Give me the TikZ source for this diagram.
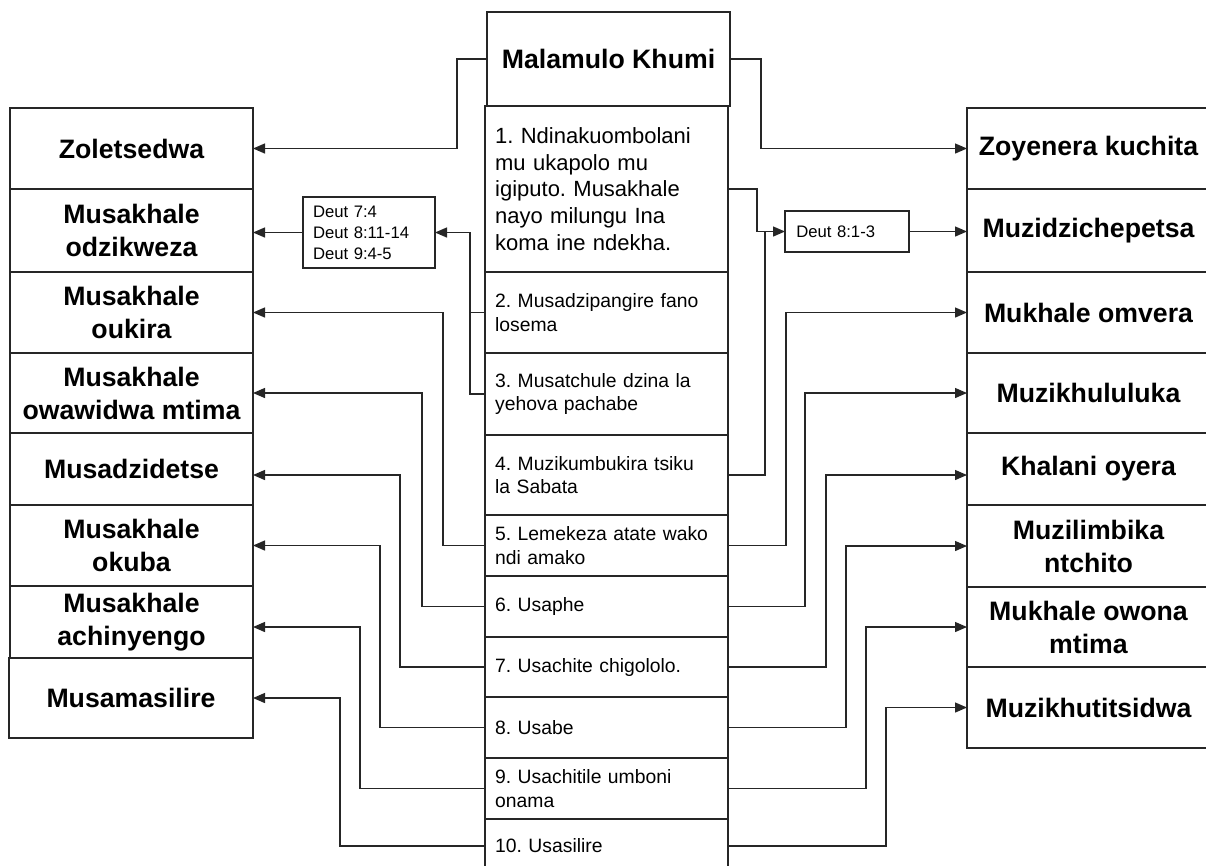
\documentclass[tikz,border=0pt]{standalone}
\usepackage{fontspec}
\setmainfont{Liberation Sans}
\usetikzlibrary{arrows.meta,calc}
\frenchspacing
\newcommand\bx[7]{\node[#6, minimum width={(#4-#2)*0.75pt}, minimum height={(#5-#3)*0.75pt}] (#1) at ({(#2+#4)/2},{(#3+#5)/2}) {#7};}
\tikzset{
  box/.style={draw=black!85, line width=1.1pt, fill=white, inner sep=0pt, outer sep=0pt},
  lab/.style={box, font=\fontsize{20}{24.75}\selectfont\bfseries\frenchspacing, align=center},
  ctr/.style={box, font=\fontsize{14.5}{17.5}\selectfont\frenchspacing, text width=167pt, align=left},
  ctrbig/.style={ctr, font=\fontsize{16.5}{20}\selectfont\frenchspacing},
  refbox/.style={box, line width=0.9pt, font=\fontsize{12.5}{15.75}\selectfont, align=left},
  arr/.style={-{Triangle[length=9pt,width=7.5pt]}, line width=1pt, draw=black!85},
  ln/.style={line width=1pt, draw=black!85}
}
\begin{document}
\begin{tikzpicture}[x=0.75pt,y=-0.75pt]
\useasboundingbox (0,0) rectangle (1206,865);
\fill[white] (0,0) rectangle (1206,865);
% centre column
\bx{title}{487}{12}{730}{106}{lab}{Malamulo Khumi}
\bx{c1}{485}{106}{728}{272}{ctrbig}{1. Ndinakuombolani\\mu ukapolo mu\\igiputo. Musakhale\\nayo milungu Ina\\koma ine ndekha.}
\bx{c2}{485}{272}{728}{353}{ctr}{2. Musadzipangire fano\\losema}
\bx{c3}{485}{353}{728}{435}{ctr}{3. Musatchule dzina la\\yehova pachabe}
\bx{c4}{485}{435}{728}{515}{ctr}{4. Muzikumbukira tsiku\\la Sabata}
\bx{c5}{485}{515}{728}{576}{ctr}{5. Lemekeza atate wako\\ndi amako}
\bx{c6}{485}{576}{728}{637}{ctr}{6. Usaphe}
\bx{c7}{485}{637}{728}{697}{ctr}{7. Usachite chigololo.}
\bx{c8}{485}{697}{728}{758}{ctr}{8. Usabe}
\bx{c9}{485}{758}{728}{819}{ctr}{9. Usachitile umboni\\onama}
\bx{c10}{485}{819}{728}{873}{ctr}{10. Usasilire}
% left column
\bx{l1}{10}{108}{253}{189}{lab}{Zoletsedwa}
\bx{l2}{10}{189}{253}{272}{lab}{Musakhale\\odzikweza}
\bx{l3}{10}{272}{253}{353}{lab}{Musakhale\\oukira}
\bx{l4}{10}{353}{253}{433}{lab}{Musakhale\\owawidwa mtima}
\bx{l5}{10}{433}{253}{505}{lab}{Musadzidetse}
\bx{l6}{10}{505}{253}{586}{lab}{Musakhale\\okuba}
\bx{l7}{10}{586}{253}{658}{lab}{Musakhale\\achinyengo}
\bx{l8}{9}{658}{253}{738}{lab}{Musamasilire}
% right column
\bx{r1}{967}{108}{1210}{189}{lab}{Zoyenera kuchita}
\bx{r2}{967}{189}{1210}{272}{lab}{Muzidzichepetsa}
\bx{r3}{967}{272}{1210}{353}{lab}{Mukhale omvera}
\bx{r4}{967}{353}{1210}{433}{lab}{Muzikhululuka}
\bx{r5}{967}{433}{1210}{505}{lab}{Khalani oyera}
\bx{r6}{967}{505}{1210}{587}{lab}{Muzilimbika\\ntchito}
\bx{r7}{967}{587}{1210}{667}{lab}{Mukhale owona\\mtima}
\bx{r8}{967}{667}{1210}{748}{lab}{Muzikhutitsidwa}
% reference boxes
\bx{dl}{303}{197}{435}{268}{refbox, text width=84pt}{Deut 7:4\\Deut 8:11-14\\Deut 9:4-5}
\bx{dr}{785}{211}{909}{252}{refbox, text width=76pt}{Deut 8:1-3}
% connectors
\draw[arr] (title.west) -- ++(-30,0) |- (l1.east);
\draw[arr] (title.east) -- ++(31,0) |- (r1.west);
\draw[arr] (c1.east) -- ++(29,0) |- (dr.west);
\draw[arr] (dr.east) -- (dr.east -| r2.west);
\draw[ln] (c4.east) -| ($(dr.west)+(-20,0)$);
\draw[arr] (c2.west) -- ++(-15,0) |- (dl.east);
\draw[ln] (c3.west) -| ($(dl.east)+(35,0)$);
\draw[arr] (dl.west) -- (dl.west -| l2.east);
\draw[arr] (c5.west) -- ++(-42,0) |- (l3.east);
\draw[arr] (c5.east) -- ++(58,0) |- (r3.west);
\draw[arr] (c6.west) -- ++(-63,0) |- (l4.east);
\draw[arr] (c6.east) -- ++(77,0) |- (r4.west);
\draw[arr] (c7.west) -- ++(-85,0) |- ([yshift=-4.5pt]l5.east);
\draw[arr] (c7.east) -- ++(98,0) |- ([yshift=-4.5pt]r5.west);
\draw[arr] (c8.west) -- ++(-105,0) |- (l6.east);
\draw[arr] (c8.east) -- ++(118,0) |- (r6.west);
\draw[arr] (c9.west) -- ++(-125,0) |- ([yshift=-3.75pt]l7.east);
\draw[arr] (c9.east) -- ++(138,0) |- (r7.west);
\draw[arr] (c10.west) -- ++(-145,0) |- (l8.east);
\draw[arr] (c10.east) -- ++(158,0) |- (r8.west);
\end{tikzpicture}
\end{document}
